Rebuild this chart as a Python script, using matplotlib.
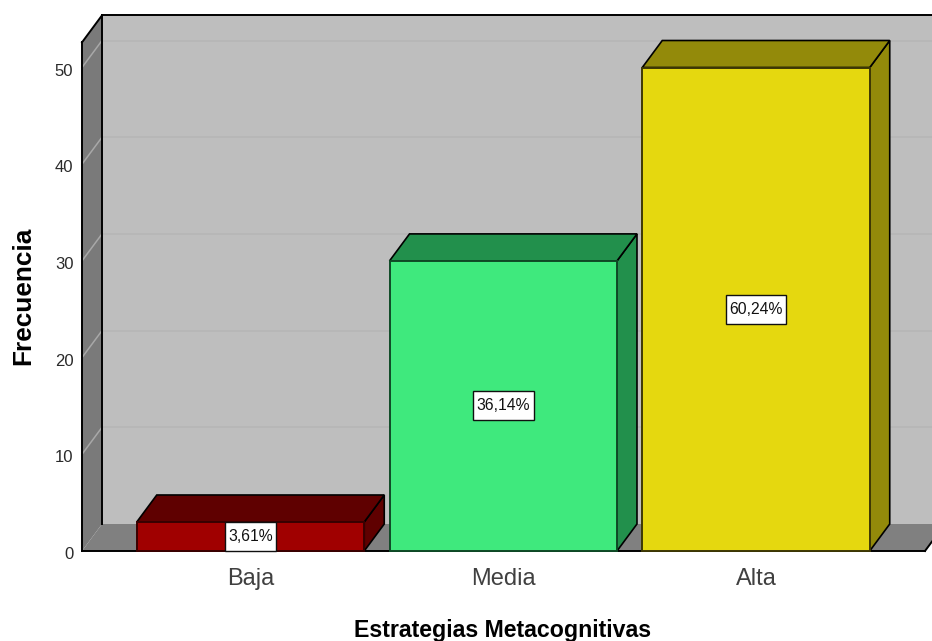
import matplotlib
matplotlib.use("Agg")
import matplotlib.pyplot as plt
from matplotlib.patches import Polygon, Rectangle

categories = ["Baja", "Media", "Alta"]
frequencies = [3, 30, 50]
percent_labels = ["3,61%", "36,14%", "60,24%"]
y_ticks = [0, 10, 20, 30, 40, 50]

front_colors = ["#A00000", "#3FE97D", "#E5D80F"]
side_colors = ["#5F0000", "#22904C", "#938A0A"]
edge_colors = ["#3A0000", "#0F4A26", "#3E3804"]

WALL = "#BEBEBE"
SIDE = "#7A7A7A"
GRID = "#B5B5B5"
FONT = "Liberation Sans"

W, H = 932, 641
PX_PER_CAT = 252.75
PX_PER_UNIT = 9.67
DX = 20 / PX_PER_CAT   # depth offset, category units
DY = 27 / PX_PER_UNIT  # depth offset, frequency units
BAR_W = 0.9

fig = plt.figure(figsize=(W / 100, H / 100), dpi=100, facecolor="white")
ax = fig.add_axes([0, 0, 1, 1])
# Data limits chosen so that one category and one frequency unit get fixed pixel sizes
x_left = -250.5 / PX_PER_CAT
x_right = x_left + W / PX_PER_CAT
y_bottom = -(H - 551) / PX_PER_UNIT
y_top = y_bottom + H / PX_PER_UNIT
ax.set_xlim(x_left, x_right)
ax.set_ylim(y_bottom, y_top)
ax.axis("off")

x0 = (82 - 250.5) / PX_PER_CAT     # front-left corner of the box
x1 = (925 - 250.5) / PX_PER_CAT    # front-right end of the floor
y_max = 52.6                       # top of the value axis on the front plane


def poly(points, fc, ec="none", lw=0.0, z=1):
    ax.add_patch(Polygon(points, closed=True, facecolor=fc, edgecolor=ec,
                         linewidth=lw, zorder=z, joinstyle="miter"))


# Back wall, floor and left wall
poly([(x0 + DX, DY), (x_right + 1, DY), (x_right + 1, y_max + DY), (x0 + DX, y_max + DY)], WALL)
poly([(x0, 0), (x1, 0), (x1 + DX, DY), (x0 + DX, DY)], "#808080", z=2)
poly([(x0, 0), (x0 + DX, DY), (x0 + DX, y_max + DY), (x0, y_max)], SIDE, z=2)

# Gridlines run along the back wall and down the left wall
for v in y_ticks[1:]:
    ax.plot([x0 + DX, x_right], [v + DY, v + DY], color=GRID, lw=1.1, zorder=1.5)
    ax.plot([x0, x0 + DX], [v, v + DY], color="#A8A8A8", lw=1.1, zorder=2.5)

# Box outline
ax.plot([x0 + DX, x_right], [y_max + DY] * 2, color="black", lw=1.4, zorder=3)
ax.plot([x0 + DX, x0 + DX], [DY, y_max + DY], color="black", lw=1.4, zorder=3)
ax.plot([x0, x0 + DX], [y_max, y_max + DY], color="black", lw=1.4, zorder=3)
ax.plot([x0, x0], [0, y_max], color="black", lw=1.4, zorder=3)
ax.plot([x0, x1], [0, 0], color="black", lw=1.4, zorder=3)
ax.plot([x1, x_right], [0, DY * (x_right - x1) / DX], color="black", lw=1.4, zorder=3)

renderer = fig.canvas.get_renderer()

# Bars: side and top faces first, front face over them
for i, v in enumerate(frequencies):
    l, r = i - BAR_W / 2, i + BAR_W / 2
    poly([(r, 0), (r + DX, DY), (r + DX, v + DY), (r, v)], side_colors[i], "black", 1.2, z=4)
    poly([(l, v), (r, v), (r + DX, v + DY), (l + DX, v + DY)], side_colors[i], "black", 1.2, z=4)
    poly([(l, 0), (r, 0), (r, v), (l, v)], front_colors[i], edge_colors[i], 1.4, z=5)
    # Percentage label in a white box sized from the measured text width
    t = ax.text(i, v / 2, percent_labels[i], family=FONT, fontsize=11.3, color="#111111",
                ha="center", va="center", zorder=7)
    half = (t.get_window_extent(renderer).width / 2 + 3.5) / PX_PER_CAT
    ax.add_patch(Rectangle((i - half, v / 2 - 1.5), 2 * half, 3.0, facecolor="white",
                           edgecolor="#101010", linewidth=1.0, zorder=6))
    ax.annotate(categories[i], xy=(i, 0), xytext=(0, -20), textcoords="offset points",
                family=FONT, fontsize=17, color="#404040", ha="center", va="center")

# Value labels to the left of the front edge
for v in y_ticks:
    ax.annotate(str(v), xy=(x0, v), xytext=(-6.2, -2.6), textcoords="offset points",
                family=FONT, fontsize=12, color="#2A2A2A", ha="right", va="center")

fig.text(502.5 / W, 1 - 630 / H, "Estrategias Metacognitivas", family=FONT, fontsize=16.7,
         fontweight="bold", ha="center", va="center")
fig.text(23 / W, 1 - 296 / H, "Frecuencia", family=FONT, fontsize=18.9, fontweight="bold",
         rotation=90, ha="center", va="center")

fig.savefig("out.png", dpi=100)
